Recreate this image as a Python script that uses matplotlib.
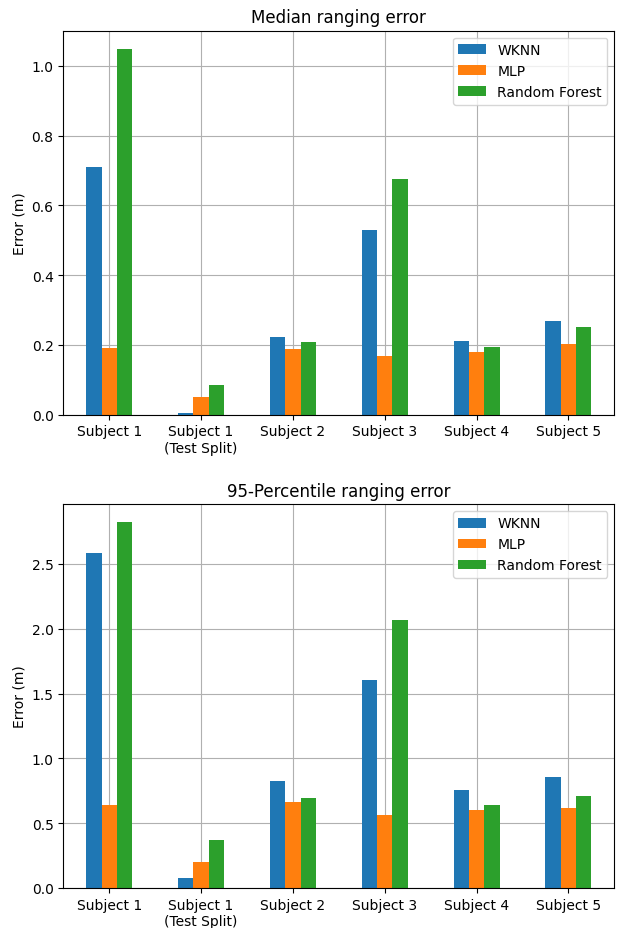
import numpy as np
import matplotlib
matplotlib.use("Agg")
import matplotlib.pyplot as plt

categories = ["Subject 1", "Subject 1\n(Test Split)", "Subject 2", "Subject 3", "Subject 4", "Subject 5"]
models = ["WKNN", "MLP", "Random Forest"]

median_wknn = [0.709, 0.004, 0.224, 0.529, 0.210, 0.268]
median_mlp = [0.190, 0.050, 0.187, 0.167, 0.179, 0.203]
median_rf = [1.048, 0.085, 0.209, 0.675, 0.195, 0.251]

p95_wknn = [2.585, 0.080, 0.822, 1.601, 0.755, 0.856]
p95_mlp = [0.640, 0.200, 0.663, 0.565, 0.604, 0.619]
p95_rf = [2.821, 0.367, 0.694, 2.068, 0.640, 0.709]

colors = ["#1f77b4", "#ff7f0e", "#2ca02c"]

fig = plt.figure(figsize=(6.27, 9.29), dpi=100)
W, H = 627, 929
ax1 = fig.add_axes([63.3 / W, (H - 415.7) / H, 551 / W, 384 / H])
ax2 = fig.add_axes([63.3 / W, (H - 889) / H, 551 / W, 384 / H])


def grouped_bars(ax, series, title):
    x = np.arange(len(categories))
    n = len(series)
    width = 0.5 / n
    for i, (vals, name) in enumerate(zip(series, models)):
        offset = (i - (n - 1) / 2) * width
        ax.bar(x + offset, vals, width, color=colors[i], label=name)
    ax.set_axisbelow(True)
    ax.grid(True)
    ax.set_xlim(-0.5, len(categories) - 0.5)
    ax.set_xticks(x)
    ax.set_xticklabels(categories)
    ax.set_ylabel("Error (m)")
    ax.set_title(title)
    ax.legend(loc="upper right")


grouped_bars(ax1, [median_wknn, median_mlp, median_rf], "Median ranging error")
grouped_bars(ax2, [p95_wknn, p95_mlp, p95_rf], "95-Percentile ranging error")

fig.savefig("out.png", dpi=100)
